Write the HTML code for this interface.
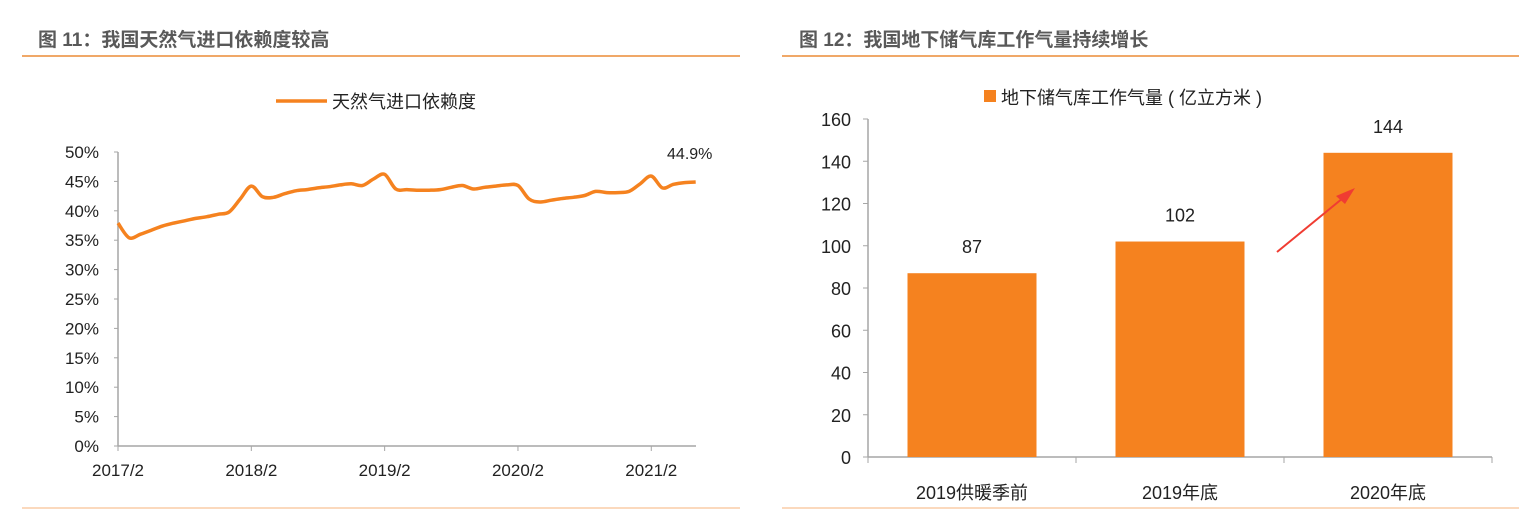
<!DOCTYPE html>
<html><head><meta charset="utf-8"><style>
html,body{margin:0;padding:0;background:#fff;}
body{width:1519px;height:510px;overflow:hidden;position:relative;font-family:"Liberation Sans","Noto Sans CJK SC",sans-serif;}
svg{position:absolute;left:0;top:0;}
</style></head><body>
<svg width="1519" height="510">
<g id="left"></g>
<g id="right"></g>
</svg>
<script>
const dependency = [37.9,35.4,36.0,36.7,37.4,37.9,38.3,38.7,39.0,39.4,39.8,42.0,44.2,42.4,42.3,42.9,43.4,43.6,43.9,44.1,44.4,44.6,44.3,45.4,46.2,43.7,43.6,43.5,43.5,43.6,44.0,44.3,43.7,44.0,44.2,44.4,44.3,42.0,41.5,41.8,42.1,42.3,42.6,43.3,43.1,43.1,43.3,44.6,45.9,43.9,44.5,44.8,44.9];
const yTicksL = [0,5,10,15,20,25,30,35,40,45,50];
const xTickLabelsL = ["2017/2","2018/2","2019/2","2020/2","2021/2"];
const xTickIdxL = [0,12,24,36,48];
const lastLabel = "44.9%";

const categories = ["2019供暖季前","2019年底","2020年底"];
const storage = [87,102,144];
const yTicksR = [0,20,40,60,80,100,120,140,160];

const NS="http://www.w3.org/2000/svg";
function mk(parent,tag,attrs,text){const e=document.createElementNS(NS,tag);for(const k in attrs)e.setAttribute(k,attrs[k]);if(text!==undefined)e.textContent=text;parent.appendChild(e);return e;}

const L=document.getElementById('left'), R=document.getElementById('right');
let t=mk(L,'text',{x:38,y:46,'font-size':19,'font-weight':'bold',fill:'#595959'},'图 11：我国天然气进口依赖度较高');


let ln=mk(L,'line',{x1:22,y1:56,x2:740,y2:56,stroke:'#f0a868','stroke-width':2});


ln=mk(L,'line',{x1:22,y1:508,x2:740,y2:508,stroke:'#fbd9bd','stroke-width':2});


t=mk(R,'text',{x:799,y:46,'font-size':19,'font-weight':'bold',fill:'#595959'},'图 12：我国地下储气库工作气量持续增长');


ln=mk(R,'line',{x1:782,y1:56,x2:1519,y2:56,stroke:'#f0a868','stroke-width':2});


ln=mk(R,'line',{x1:782,y1:508,x2:1519,y2:508,stroke:'#fbd9bd','stroke-width':2});



const lx0=118, lxStep=11.11, ly0=446, lyTop=152;
const xL=i=>lx0+i*lxStep;
const yL=v=>ly0-(v/50)*(ly0-lyTop);
let g=mk(L,'g',{});


mk(g,'line',{x1:lx0,y1:lyTop,x2:lx0,y2:ly0,stroke:'#a6a6a6','stroke-width':1.5});
yTicksL.forEach(v=>{
  mk(g,'line',{x1:lx0-4,y1:yL(v),x2:lx0,y2:yL(v),stroke:'#a6a6a6'});
  const tt=mk(g,'text',{x:lx0-19,y:yL(v)+6,'font-size':17,'text-anchor':'end',fill:'#222'},v+'%');
  
  
});
g=mk(L,'g',{});


mk(g,'line',{x1:lx0,y1:ly0,x2:696,y2:ly0,stroke:'#a6a6a6','stroke-width':1.5});
xTickIdxL.forEach((idx,k)=>{
  mk(g,'line',{x1:xL(idx),y1:ly0,x2:xL(idx),y2:ly0+5,stroke:'#a6a6a6'});
  const tt=mk(g,'text',{x:xL(idx),y:ly0+30,'font-size':17,'text-anchor':'middle',fill:'#222'},xTickLabelsL[k]);
  
  
});
// smooth path (Catmull-Rom)
const pts=dependency.map((v,i)=>[xL(i),yL(v)]);
let d='M'+pts[0][0].toFixed(1)+','+pts[0][1].toFixed(1);
for(let i=0;i<pts.length-1;i++){
  const p0=pts[Math.max(0,i-1)],p1=pts[i],p2=pts[i+1],p3=pts[Math.min(pts.length-1,i+2)];
  const c1=[p1[0]+(p2[0]-p0[0])/6,p1[1]+(p2[1]-p0[1])/6];
  const c2=[p2[0]-(p3[0]-p1[0])/6,p2[1]-(p3[1]-p1[1])/6];
  d+=' C'+c1.map(n=>n.toFixed(1)).join(',')+' '+c2.map(n=>n.toFixed(1)).join(',')+' '+p2.map(n=>n.toFixed(1)).join(',');
}
const p=mk(L,'path',{d:d,fill:'none',stroke:'#f5821f','stroke-width':3.5,'stroke-linejoin':'round'});


const last=dependency.length-1;
t=mk(L,'text',{x:xL(last)-6,y:yL(dependency[last])-23,'font-size':16,'text-anchor':'middle',fill:'#222'},lastLabel);


g=mk(L,'g',{});


mk(g,'line',{x1:276,y1:101,x2:327,y2:101,stroke:'#f5821f','stroke-width':3.5});
mk(g,'text',{x:332,y:108,'font-size':18,fill:'#222'},'天然气进口依赖度');

const rx0=868, rx1=1492, ry0=457, ryTop=119;
const catW=(rx1-rx0)/categories.length, barW=129;
const yR=v=>ry0-(v/160)*(ry0-ryTop);
g=mk(R,'g',{});


mk(g,'line',{x1:rx0,y1:ryTop,x2:rx0,y2:ry0,stroke:'#a6a6a6','stroke-width':1.5});
yTicksR.forEach(v=>{
  mk(g,'line',{x1:rx0-5,y1:yR(v),x2:rx0,y2:yR(v),stroke:'#a6a6a6'});
  const tt=mk(g,'text',{x:rx0-17,y:yR(v)+7,'font-size':18,'text-anchor':'end',fill:'#222'},v);
  
  
});
g=mk(R,'g',{});


mk(g,'line',{x1:rx0,y1:ry0,x2:rx1,y2:ry0,stroke:'#a6a6a6','stroke-width':1.5});
for(let i=0;i<=categories.length;i++) mk(g,'line',{x1:rx0+i*catW,y1:ry0,x2:rx0+i*catW,y2:ry0+6,stroke:'#a6a6a6'});
categories.forEach((c,i)=>{
  const cx=rx0+(i+0.5)*catW;
  const tt=mk(g,'text',{x:cx,y:ry0+42,'font-size':18,'text-anchor':'middle',fill:'#222'},c);
  
  
});
storage.forEach((v,i)=>{
  const cx=rx0+(i+0.5)*catW;
  const b=mk(R,'rect',{x:cx-barW/2,y:yR(v),width:barW,height:ry0-yR(v),fill:'#f5821f'});
  
  
  const lt=mk(R,'text',{x:cx,y:yR(v)-20,'font-size':18,'text-anchor':'middle',fill:'#222'},v);
  
  
});
g=mk(R,'g',{});


mk(g,'rect',{x:984,y:90,width:12,height:12,fill:'#f5821f'});
mk(g,'text',{x:1001,y:104,'font-size':18,fill:'#222'},'地下储气库工作气量 ( 亿立方米 )');
g=mk(R,'g',{});


mk(g,'line',{x1:1277,y1:252,x2:1343,y2:198,stroke:'#f03c32','stroke-width':2});
mk(g,'polygon',{points:'1355,188 1336,196 1345,204',fill:'#f03c32'});
</script>
</body></html>
